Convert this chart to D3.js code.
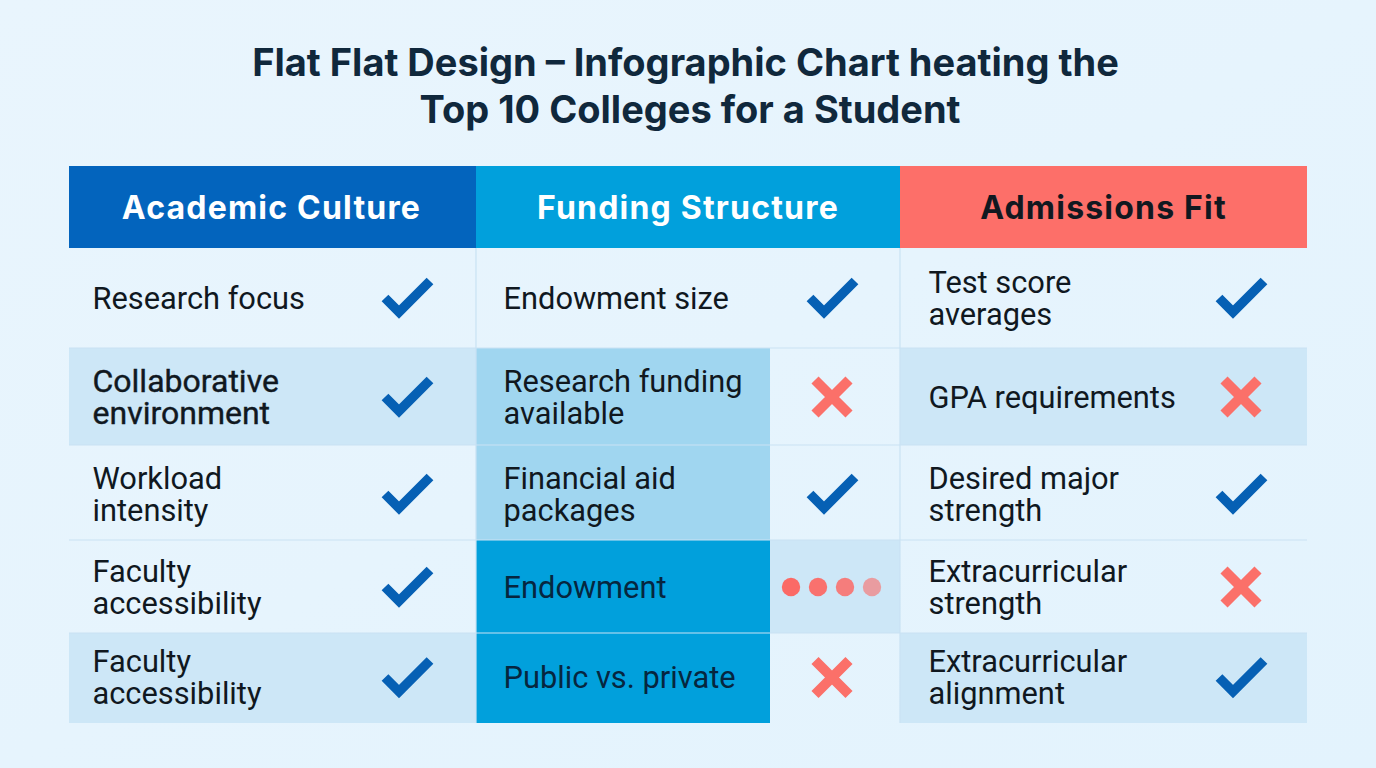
<!DOCTYPE html>
<html>

<head>
    <meta charset="utf-8">
    <script src="https://d3js.org/d3.v7.min.js" charset="utf-8"></script>
    <style>
        html, body { margin: 0; padding: 0; background: #e6f4fd; overflow: hidden; }
        svg { display: block; }
    </style>
</head>

<body>
    <script type="text/javascript">
        // Chart content
        const titleLines = ["Flat Flat Design – Infographic Chart heating the", "Top 10 Colleges for a Student"];
        const columnNames = ["Academic Culture", "Funding Structure", "Admissions Fit"];

        const academicLabels = [["Research focus"], ["Collaborative", "environment"], ["Workload", "intensity"], ["Faculty", "accessibility"], ["Faculty", "accessibility"]];
        const fundingLabels = [["Endowment size"], ["Research funding", "available"], ["Financial aid", "packages"], ["Endowment"], ["Public vs. private"]];
        const admissionsLabels = [["Test score", "averages"], ["GPA requirements"], ["Desired major", "strength"], ["Extracurricular", "strength"], ["Extracurricular", "alignment"]];

        const academicMarks = ["check", "check", "check", "check", "check"];
        const fundingMarks = ["check", "cross", "check", "dots", "cross"];
        const admissionsMarks = ["check", "cross", "check", "cross", "check"];

        // shade of the label cell and of the mark cell in each row
        const academicShades = ["none", "light", "none", "none", "light"];
        const fundingShades = ["none", "mid", "mid", "strong", "strong"];
        const fundingMarkShades = ["none", "none", "none", "light", "none"];
        const admissionsShades = ["none", "light", "none", "none", "light"];

        const dotOpacities = [1, 0.95, 0.85, 0.6];

        var width = 1376;
        var height = 768;

        const svg = d3.select("body").append("svg")
            .attr("width", width)
            .attr("height", height);

        const defs = svg.append("defs");
        const bg = defs.append("linearGradient").attr("id", "bg")
            .attr("x1", 0).attr("y1", 0).attr("x2", 1).attr("y2", 1);
        bg.append("stop").attr("offset", "0%").attr("stop-color", "#e9f5fd");
        bg.append("stop").attr("offset", "100%").attr("stop-color", "#e3f3fd");

        svg.append("rect")
            .attr("width", width)
            .attr("height", height)
            .attr("fill", "url(#bg)");

        // Layout: edges of the rows and columns are irregular in the picture
        const rowIndex = d3.range(5);
        const rowTop = d3.scaleOrdinal(rowIndex, [248, 348, 445, 540, 633]);
        const rowBottom = d3.scaleOrdinal(rowIndex, [348, 445, 540, 633, 723]);
        const rowMid = d3.scaleOrdinal(rowIndex, [298, 397, 494, 587, 677.5]);
        const columnLeft = d3.scaleOrdinal(d3.range(3), [69, 476, 900]);
        const columnRight = d3.scaleOrdinal(d3.range(3), [476, 900, 1307]);
        const markX = d3.scaleOrdinal(d3.range(3), [407, 832, 1241]);
        const labelX = d3.scaleOrdinal(d3.range(3), [92.5, 503.5, 928.5]);
        const labelRight = d3.scaleOrdinal(d3.range(3), [476, 770, 1307]);

        const shadeColor = d3.scaleOrdinal(["none", "light", "mid", "strong"], ["none", "#cde7f7", "#a0d6f0", "#01a0dc"]);
        const headerColor = d3.scaleOrdinal(d3.range(3), ["#0364bd", "#01a0dc", "#fd6f69"]);
        const headerText = d3.scaleOrdinal(d3.range(3), ["#ffffff", "#ffffff", "#111820"]);

        const columns = [
            { labels: academicLabels, marks: academicMarks, shades: academicShades, markShades: academicShades },
            { labels: fundingLabels, marks: fundingMarks, shades: fundingShades, markShades: fundingMarkShades },
            { labels: admissionsLabels, marks: admissionsMarks, shades: admissionsShades, markShades: admissionsShades }
        ];

        // Title
        svg.append("g").selectAll("text")
            .data(titleLines)
            .join("text")
            .attr("x", (d, i) => i == 0 ? 685.5 : 690)
            .attr("y", (d, i) => 76 + i * 47)
            .attr("text-anchor", "middle")
            .attr("font-family", "Inter, sans-serif")
            .attr("font-weight", 700)
            .attr("font-size", 38)
            .attr("fill", "#10283c")
            .text(d => d);

        // Header band
        const headers = svg.append("g").selectAll("g")
            .data(columnNames)
            .join("g");

        headers.append("rect")
            .attr("x", (d, i) => columnLeft(i))
            .attr("y", 166)
            .attr("width", (d, i) => columnRight(i) - columnLeft(i))
            .attr("height", 82)
            .attr("fill", (d, i) => headerColor(i));

        headers.append("text")
            .attr("x", (d, i) => (columnLeft(i) + columnRight(i)) / 2 + (i == 0 ? -1 : 0))
            .attr("y", 219)
            .attr("text-anchor", "middle")
            .attr("font-family", "Inter, sans-serif")
            .attr("font-weight", 700)
            .attr("font-size", 32)
            .attr("letter-spacing", 1.2)
            .attr("fill", (d, i) => headerText(i))
            .text(d => d);

        // Flatten the columns into one row per cell
        const cells = [];
        columns.forEach((col, c) => {
            rowIndex.forEach(r => {
                cells.push({
                    c: c,
                    r: r,
                    label: col.labels[r],
                    mark: col.marks[r],
                    shade: col.shades[r],
                    markShade: col.markShades[r]
                });
            });
        });

        // Cell shading
        const shading = svg.append("g");

        shading.selectAll("rect.label-cell")
            .data(cells.filter(d => d.shade != "none"))
            .join("rect")
            .attr("class", "label-cell")
            .attr("x", d => columnLeft(d.c))
            .attr("y", d => rowTop(d.r))
            .attr("width", d => labelRight(d.c) - columnLeft(d.c))
            .attr("height", d => rowBottom(d.r) - rowTop(d.r))
            .attr("fill", d => shadeColor(d.shade));

        shading.selectAll("rect.mark-cell")
            .data(cells.filter(d => d.c == 1 && d.markShade != "none"))
            .join("rect")
            .attr("class", "mark-cell")
            .attr("x", d => labelRight(d.c))
            .attr("y", d => rowTop(d.r))
            .attr("width", d => columnRight(d.c) - labelRight(d.c))
            .attr("height", d => rowBottom(d.r) - rowTop(d.r))
            .attr("fill", d => shadeColor(d.markShade));

        // Thin grid lines between the rows and the columns
        const grid = svg.append("g")
            .attr("stroke", "#c9e2f4")
            .attr("stroke-width", 1.2);

        grid.selectAll("line.row-line")
            .data(rowIndex.slice(1))
            .join("line")
            .attr("class", "row-line")
            .attr("x1", 69)
            .attr("x2", 1307)
            .attr("y1", d => rowTop(d))
            .attr("y2", d => rowTop(d));

        grid.selectAll("line.col-line")
            .data([1, 2])
            .join("line")
            .attr("class", "col-line")
            .attr("x1", d => columnLeft(d))
            .attr("x2", d => columnLeft(d))
            .attr("y1", 248)
            .attr("y2", 723);

        // Labels, one text per cell with a tspan for each line
        svg.append("g").selectAll("text")
            .data(cells)
            .join("text")
            .attr("font-family", "Roboto, sans-serif")
            .attr("font-size", d => d.c == 0 && d.r == 1 ? 32 : 30.8)
            // the collaborative row is set a little heavier than the others
            .attr("stroke", d => d.c == 0 && d.r == 1 ? "#10181f" : "none")
            .attr("stroke-width", 0.4)
            .attr("fill", d => d.shade == "strong" ? "#06263f" : "#10181f")
            .each(function(d) {
                const first = rowMid(d.r) + 10.5 - (d.label.length - 1) * 16;
                d3.select(this).selectAll("tspan")
                    .data(d.label)
                    .join("tspan")
                    .attr("x", labelX(d.c))
                    .attr("y", (t, i) => first + i * 32)
                    .text(t => t);
            });

        // Marks, drawn around the centre of each row
        const checkLine = d3.line()([[-22, 0], [-8, 14], [23, -17]]);
        const crossLine = "M-17,-17L17,17M17,-17L-17,17";
        const dotX = d3.scalePoint(d3.range(4), [-41, 40]);

        const marks = svg.append("g").selectAll("g")
            .data(cells)
            .join("g")
            .attr("transform", d => `translate(${markX(d.c)},${rowMid(d.r)})`);

        marks.filter(d => d.mark == "check").append("path")
            .attr("d", checkLine)
            .attr("fill", "none")
            .attr("stroke", "#0660b4")
            .attr("stroke-width", 9.5)
            .attr("stroke-linejoin", "miter");

        marks.filter(d => d.mark == "cross").append("path")
            .attr("d", crossLine)
            .attr("fill", "none")
            .attr("stroke", "#fb7069")
            .attr("stroke-width", 10);

        marks.filter(d => d.mark == "dots").selectAll("circle")
            .data(dotOpacities)
            .join("circle")
            .attr("cx", (d, i) => dotX(i))
            .attr("r", 9.2)
            .attr("fill", "#fb6a66")
            .attr("opacity", d => d);
    </script>
</body>

</html>
